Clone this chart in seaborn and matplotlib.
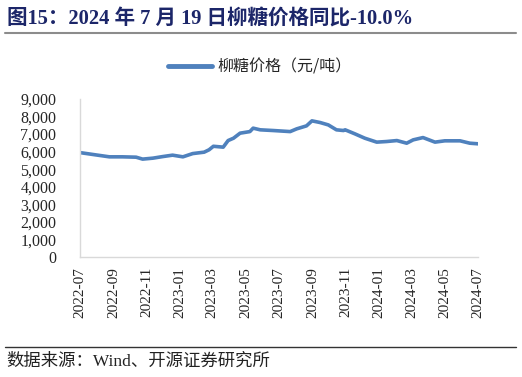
import matplotlib
matplotlib.use("Agg")
import matplotlib.pyplot as plt
from matplotlib.lines import Line2D
import pandas as pd
import seaborn as sns

# values (元/吨)
dates = ["2022-07-19", "2022-08-17", "2022-09-11", "2022-10-05", "2022-10-30",
         "2022-11-11", "2022-11-30", "2022-12-18", "2023-01-05", "2023-01-24",
         "2023-02-11", "2023-03-04", "2023-03-13", "2023-03-21", "2023-04-08",
         "2023-04-17", "2023-04-27", "2023-05-09", "2023-05-27", "2023-06-02",
         "2023-06-15", "2023-07-09", "2023-08-09", "2023-08-21", "2023-09-08",
         "2023-09-18", "2023-10-03", "2023-10-18", "2023-11-02", "2023-11-15",
         "2023-11-18", "2023-12-06", "2023-12-24", "2024-01-15", "2024-02-02",
         "2024-02-21", "2024-03-10", "2024-03-22", "2024-04-09", "2024-05-01",
         "2024-05-19", "2024-06-16", "2024-07-04", "2024-07-19"]
price = [5940, 5810, 5700, 5700, 5680,
         5570, 5625, 5715, 5795, 5700,
         5885, 5965, 6100, 6300, 6250,
         6625, 6760, 7045, 7135, 7330,
         7235, 7195, 7135, 7290, 7460,
         7745, 7650, 7515, 7235, 7195,
         7235, 7005, 6760, 6535, 6570,
         6625, 6475, 6665, 6795, 6535,
         6610, 6610, 6475, 6440]
tick_dates = ["2022-07-19", "2022-09-19", "2022-11-19", "2023-01-19", "2023-03-19",
              "2023-05-19", "2023-07-19", "2023-09-19", "2023-11-19", "2024-01-19",
              "2024-03-19", "2024-05-19", "2024-07-19"]
yticks = [0, 1000, 2000, 3000, 4000, 5000, 6000, 7000, 8000, 9000]

df = pd.DataFrame({"date": pd.to_datetime(dates), "price": price})

sns.set_style("white")
plt.rcParams['font.family'] = ['Liberation Serif', 'Noto Sans CJK SC']

fig = plt.figure(figsize=(5.22, 3.77), dpi=100)
ax = fig.add_axes([0.1533, 0.318, 0.7624, 0.42])

blue = "#4f81bd"
sns.lineplot(data=df, x="date", y="price", ax=ax, color=blue, linewidth=2.6)

ax.set_xlim(pd.Timestamp("2022-07-19"), pd.Timestamp("2024-07-19"))
ax.set_ylim(0, 9000)
ax.set_yticks(yticks)
ax.set_yticklabels([f"{v:,}" for v in yticks], fontsize=11.5)
ticks = pd.to_datetime(tick_dates)
ax.set_xticks(ticks)
ax.set_xticklabels([t.strftime("%Y-%m") for t in ticks], rotation=90, fontsize=11)
ax.set_xlabel("")
ax.set_ylabel("")

for s in ["top", "right"]:
    ax.spines[s].set_visible(False)
for s in ["left", "bottom"]:
    ax.spines[s].set_color("#d9d9d9")
    ax.spines[s].set_linewidth(1)
ax.tick_params(axis="x", direction="out", length=4, color="#d9d9d9", width=1, pad=3)
ax.tick_params(axis="y", direction="out", length=3, color="#d9d9d9", width=1, pad=14)

# legend
handle = Line2D([0], [0], color=blue, linewidth=3.5)
fig.legend([handle], ["柳糖价格（元/吨）"], loc="center", bbox_to_anchor=(0.497, 0.822),
           frameon=False, handlelength=2.8, handletextpad=0.3,
           prop={"family": ["Noto Sans CJK SC"], "size": 11.5})

# title and source
fig.text(0.013, 0.935, "图15：2024 年 7 月 19 日柳糖价格同比-10.0%", fontsize=14.8,
         fontweight="bold", color="#1c2669", ha="left", va="baseline")
fig.add_artist(Line2D([0.01, 0.988], [0.912, 0.912], color="#8c8c8c", linewidth=1.5))
fig.add_artist(Line2D([0.01, 0.988], [0.08, 0.08], color="#333333", linewidth=1))
fig.text(0.013, 0.042, "数据来源：Wind、开源证券研究所", fontsize=12.5,
         color="#222222", ha="left", va="center")

fig.savefig("out.png", dpi=100)
